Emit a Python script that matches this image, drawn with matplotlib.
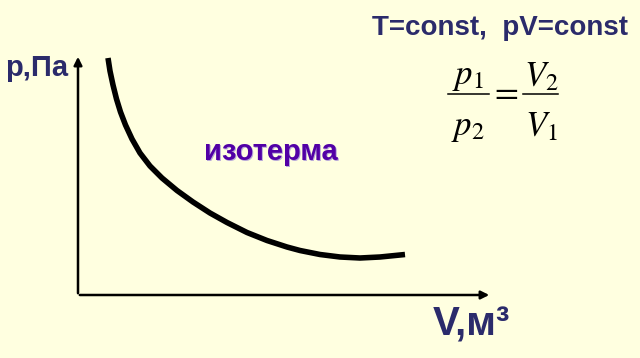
import matplotlib
matplotlib.use("Agg")
import matplotlib.pyplot as plt
from matplotlib.lines import Line2D

# isotherm curve (arbitrary units, origin at the axes corner)
V = [30, 32, 35, 38.5, 42.5, 47.5, 54, 62, 72, 84, 99, 115, 132, 149, 169, 189,
     209, 222, 242, 262, 282, 302, 327]
p = [237, 224, 210, 196, 183, 170, 156, 142, 129, 117, 104.5, 93, 82, 72.5, 62.5, 54.5,
     48, 44.5, 40.5, 38, 37, 38, 40.5]

bg = "#FFFFE0"
navy = "#2b2b6b"

fig = plt.figure(figsize=(6.4, 3.58), dpi=100, facecolor=bg)

# axes box: corner at pixel (78, 295), extends to (492, 54)
ax = fig.add_axes([78 / 640, (358 - 295) / 358, (492 - 78) / 640, (295 - 54) / 358])
ax.set_facecolor(bg)
ax.set_xlim(0, 414)
ax.set_ylim(0, 241)
ax.axis("off")

ax.plot(V, p, color="black", lw=4, solid_capstyle="butt", solid_joinstyle="round")

# axis arrows
ax.annotate("", xy=(0, 241), xytext=(0, -1),
            arrowprops=dict(arrowstyle="-|>", color="black", lw=1.8, mutation_scale=12))
ax.annotate("", xy=(414, 0), xytext=(-1, 0),
            arrowprops=dict(arrowstyle="-|>", color="black", lw=1.8, mutation_scale=12))

font = "Liberation Sans"
fig.text(37 / 640, 1 - 68 / 358, "p,Па", color=navy, fontsize=21, fontweight="bold",
         family=font, ha="center", va="center")
fig.text(471 / 640, 1 - 324 / 358, "V,м³", color=navy, fontsize=29, fontweight="bold",
         family=font, ha="center", va="center")
fig.text(500 / 640, 1 - 28 / 358, "T=const,  pV=const", color=navy, fontsize=20,
         fontweight="bold", family=font, ha="center", va="center")

# label with light shadow
fig.text(271 / 640 + 0.002, 1 - 152 / 358 - 0.004, "изотерма", color="#b8a8d8", fontsize=21,
         fontweight="bold", family=font, ha="center", va="center")
fig.text(271 / 640, 1 - 152 / 358, "изотерма", color="#5200a6", fontsize=21,
         fontweight="bold", family=font, ha="center", va="center")

# p1/p2 = V2/V1, built from pieces so the spacing follows the picture
plt.rcParams["mathtext.fontset"] = "stix"


def px(x, y):
    return x / 640, 1 - y / 358


fs = 25
fig.text(*px(468, 76), r"$p_1$", fontsize=fs, ha="center", va="center")
fig.text(*px(468, 127), r"$p_2$", fontsize=fs, ha="center", va="center")
fig.text(*px(541, 76), r"$V_2$", fontsize=fs, ha="center", va="center")
fig.text(*px(541, 126), r"$V_1$", fontsize=fs, ha="center", va="center")
fig.text(*px(504, 91), r"$=$", fontsize=fs, ha="center", va="center")
for x0, x1 in [(448, 489), (523, 558)]:
    (a, b), (c, d) = px(x0, 94), px(x1, 94)
    fig.add_artist(Line2D([a, c], [b, d], color="black", lw=1.1))

fig.savefig("out.png", dpi=100, facecolor=bg)
